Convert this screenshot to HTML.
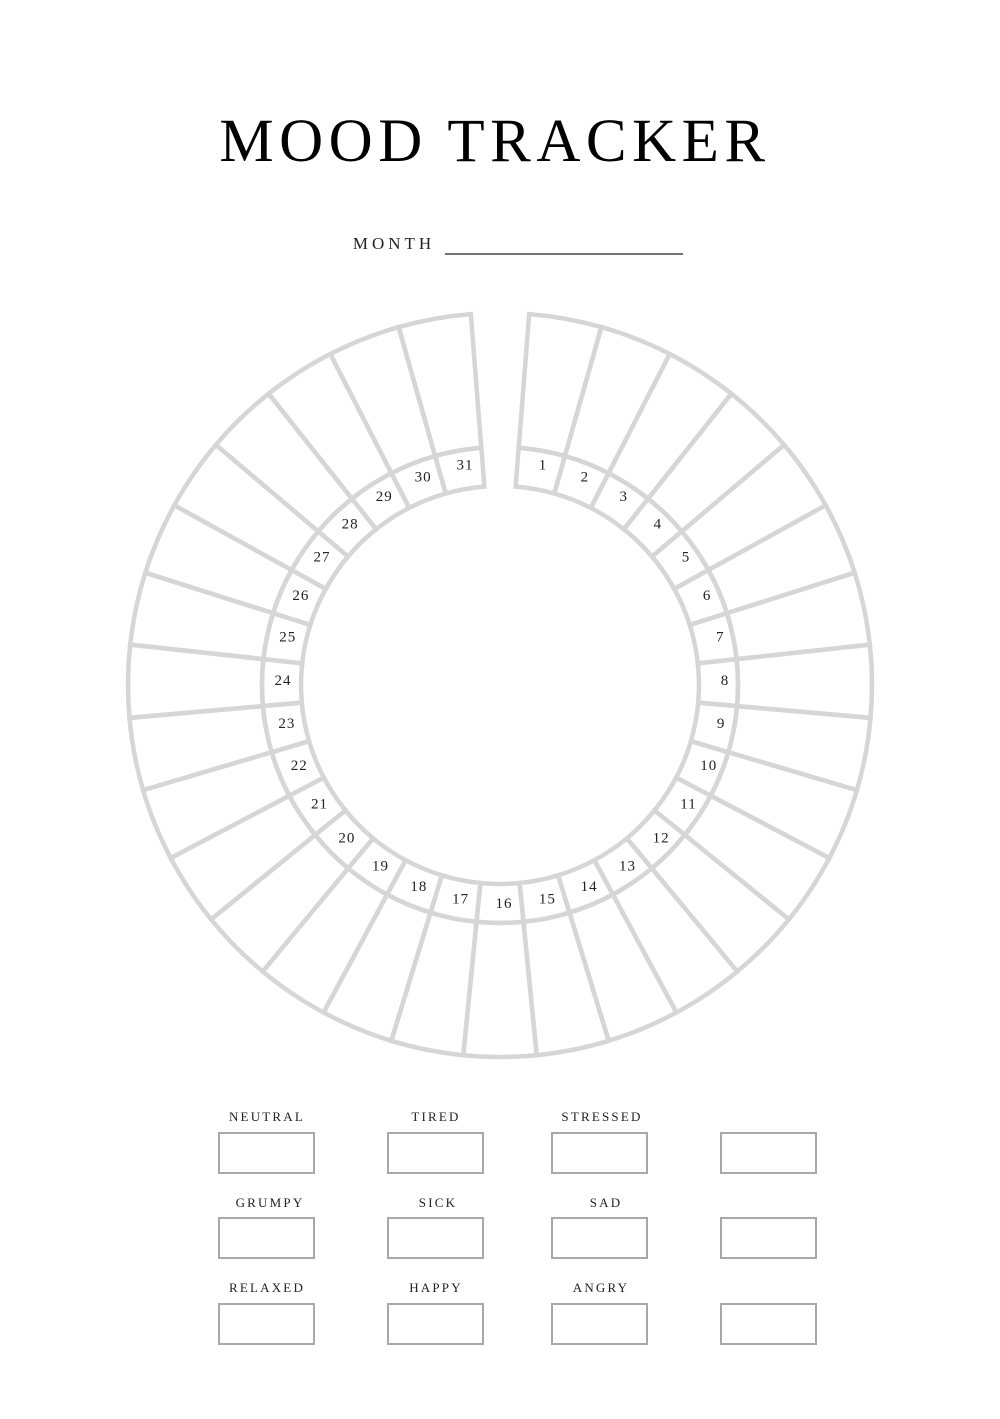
<!DOCTYPE html>
<html><head><meta charset="utf-8"><style>
html,body{margin:0;padding:0;background:#fff;}
body{width:1000px;height:1414px;position:relative;overflow:hidden;font-family:"Liberation Serif",serif;color:#111;}
</style></head><body>
<svg id="s" width="1000" height="1414" viewBox="0 0 1000 1414" xmlns="http://www.w3.org/2000/svg">
<text x="495" y="161" text-anchor="middle" font-family="Liberation Serif, serif" font-size="61" letter-spacing="5.5" fill="#000">MOOD TRACKER</text>
<text x="394" y="249" text-anchor="middle" font-family="Liberation Serif, serif" font-size="17" letter-spacing="4" fill="#222">MONTH</text>
<line x1="445" y1="254" x2="683" y2="254" stroke="#222" stroke-width="1.3"/>
<g id="ring" fill="none" stroke="#d6d6d6" stroke-width="4.5" stroke-linejoin="miter"></g>
<g id="nums" font-family="Liberation Serif, serif" font-size="15" fill="#222" text-anchor="middle" letter-spacing="1"></g>
<g fill="none" stroke="#a8a8a8" stroke-width="2">
<rect x="219" y="1133" width="95" height="40"/><rect x="388" y="1133" width="95" height="40"/><rect x="552" y="1133" width="95" height="40"/><rect x="721" y="1133" width="95" height="40"/>
<rect x="219" y="1218" width="95" height="40"/><rect x="388" y="1218" width="95" height="40"/><rect x="552" y="1218" width="95" height="40"/><rect x="721" y="1218" width="95" height="40"/>
<rect x="219" y="1304" width="95" height="40"/><rect x="388" y="1304" width="95" height="40"/><rect x="552" y="1304" width="95" height="40"/><rect x="721" y="1304" width="95" height="40"/>
</g>
<g font-family="Liberation Serif, serif" font-size="13" fill="#222" text-anchor="middle" letter-spacing="2.2">
<text x="267" y="1121">NEUTRAL</text><text x="436" y="1121">TIRED</text><text x="602" y="1121">STRESSED</text>
<text x="270" y="1207">GRUMPY</text><text x="438" y="1207">SICK</text><text x="606" y="1207">SAD</text>
<text x="267" y="1292">RELAXED</text><text x="436" y="1292">HAPPY</text><text x="601" y="1292">ANGRY</text>
</g>
</svg>
<script>
(function(){
var cx=500,cy=685,r0=199,r1=238,r2=372,a0=4.5,w=351/31;
var ring=document.getElementById('ring'),nums=document.getElementById('nums');
function pt(r,a){var t=a*Math.PI/180;return [cx+r*Math.sin(t),cy-r*Math.cos(t)];}
function f(q){return q[0].toFixed(1)+' '+q[1].toFixed(1);}
var NS='http://www.w3.org/2000/svg';
function cell(ra,rb,as,ae){
 var a=pt(ra,as),b=pt(ra,ae),c=pt(rb,ae),d=pt(rb,as);
 return 'M'+f(a)+' A'+ra+' '+ra+' 0 0 1 '+f(b)+' L'+f(c)+' A'+rb+' '+rb+' 0 0 0 '+f(d)+' Z';
}
for(var k=0;k<31;k++){
 var as=a0+k*w,ae=as+w;
 var p1=document.createElementNS(NS,'path');p1.setAttribute('d',cell(r0,r1,as,ae));ring.appendChild(p1);
 var p2=document.createElementNS(NS,'path');p2.setAttribute('d',cell(r1,r2,as,ae));ring.appendChild(p2);
 var t0=(as+w/2)*Math.PI/180;
 var x=504+221*Math.sin(t0),y=682-221*Math.cos(t0);
 var t=document.createElementNS(NS,'text');t.setAttribute('x',x.toFixed(1));t.setAttribute('y',(y+5).toFixed(1));t.textContent=String(k+1);nums.appendChild(t);
}
})();
</script>
</body></html>
